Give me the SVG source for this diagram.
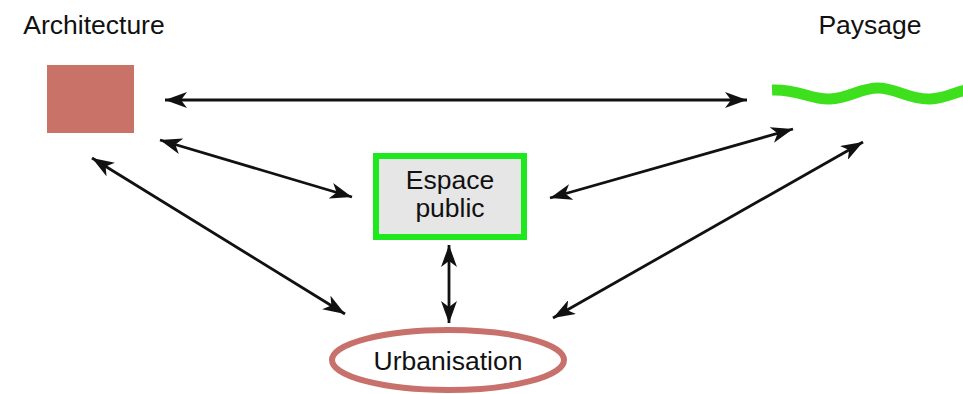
<svg xmlns="http://www.w3.org/2000/svg" width="963" height="394" viewBox="0 0 963 394">
<defs>
<style>
.lbl{font-family:"Liberation Sans",Arial,sans-serif;font-size:26.5px;fill:#111;text-anchor:middle}
.conn{stroke:#111;stroke-width:2.8;fill:none;marker-start:url(#ah);marker-end:url(#ah)}
</style>
<marker id="ah" markerUnits="userSpaceOnUse" markerWidth="24" markerHeight="16" refX="22" refY="8" orient="auto-start-reverse">
<path d="M0,0 L22,8 L0,16 L6,8 Z" fill="#111"/>
</marker>
</defs>
<rect width="963" height="394" fill="#fff"/>
<g id="architecture">
<text class="lbl" x="94" y="34">Architecture</text>
<rect x="47" y="65" width="87" height="68" fill="#c87268"/>
</g>
<g id="paysage">
<text class="lbl" x="870" y="34">Paysage</text>
<path d="M772,90 C800,89 810,100 830,99 S860,88 878,88 S910,100 930,99 S958,89 975,89" fill="none" stroke="#3ee01e" stroke-width="11"/>
</g>
<g id="espace-public">
<rect x="376" y="156" width="148" height="81" fill="#e6e6e6" stroke="#1ee81e" stroke-width="6"/>
<text class="lbl" x="450" y="189">Espace</text>
<text class="lbl" x="450" y="217">public</text>
</g>
<g id="urbanisation">
<ellipse cx="448" cy="360" rx="116" ry="30" fill="#fff" stroke="#c8706c" stroke-width="6"/>
<text class="lbl" x="448" y="370">Urbanisation</text>
</g>
<g id="connectors">
<line class="conn" x1="165" y1="100" x2="747" y2="100"/>
<line class="conn" x1="160" y1="140" x2="352" y2="197"/>
<line class="conn" x1="550" y1="198" x2="793" y2="129"/>
<line class="conn" x1="92" y1="158" x2="345" y2="314"/>
<line class="conn" x1="449" y1="245" x2="449" y2="323"/>
<line class="conn" x1="863" y1="142" x2="553" y2="318"/>
</g>
</svg>
